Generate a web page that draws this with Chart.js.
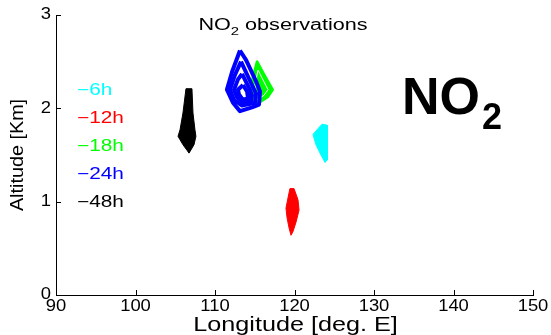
<!DOCTYPE html>
<html>
<head>
<meta charset="utf-8">
<script src="https://cdn.jsdelivr.net/npm/chart.js@4.4.1/dist/chart.umd.min.js"></script>
<style>
  body { margin: 0; background: #fff; }
  #wrap { width: 551px; height: 335px; }
</style>
</head>
<body>
<div id="wrap"><canvas id="myChart" width="551" height="335"></canvas></div>
<script>
// axis ticks
var xTicks = [90, 100, 110, 120, 130, 140, 150];
var yTicks = [0, 1, 2, 3];

// legend text
var legendLabels = ['\u22126h', '\u221212h', '\u221218h', '\u221224h', '\u221248h'];
var legendColors = ['#00ffff', '#ff0000', '#00ff00', '#0000ff', '#000000'];

// -6h (cyan)
var lon6 = [123.46, 124.09, 124.21, 124.09, 123.84, 123.33, 122.70, 122.33, 122.83, 123.46];
var alt6 = [1.83, 1.82, 1.66, 1.45, 1.42, 1.50, 1.61, 1.72, 1.77, 1.83];

// -12h (red)
var lon12 = [119.43, 119.94, 120.44, 120.57, 120.19, 119.81, 119.56, 119.31, 119.06, 118.93, 119.18, 119.43];
var alt12 = [1.14, 1.14, 1.02, 0.91, 0.78, 0.68, 0.64, 0.72, 0.83, 0.93, 1.04, 1.14];

// -18h (green), outer and inner contour
var lon18a = [115.28, 116.04, 117.30, 116.67, 115.41, 114.65, 114.65, 115.28];
var alt18a = [2.51, 2.39, 2.20, 2.12, 2.05, 2.09, 2.31, 2.51];
var lon18b = [115.41, 116.67, 116.16, 115.28, 115.03, 115.41];
var alt18b = [2.41, 2.20, 2.14, 2.09, 2.25, 2.41];

// -24h (blue), nested contours
var lon24a = [113.14, 113.90, 115.16, 115.66, 115.53, 114.65, 113.14, 112.26, 111.50, 112.14, 113.14];
var alt24a = [2.62, 2.52, 2.29, 2.18, 2.04, 2.01, 1.97, 2.06, 2.20, 2.39, 2.62];
var lon24b = [113.27, 114.65, 115.16, 115.03, 113.40, 112.39, 111.89, 112.52, 113.27];
var alt24b = [2.50, 2.25, 2.16, 2.06, 2.03, 2.09, 2.20, 2.36, 2.50];
var lon24c = [113.40, 114.28, 114.65, 114.53, 113.52, 112.77, 112.39, 112.89, 113.40];
var alt24c = [2.37, 2.22, 2.14, 2.08, 2.06, 2.12, 2.20, 2.31, 2.37];
var lon24d = [113.52, 114.03, 114.15, 113.52, 113.02, 112.89, 113.52];
var alt24d = [2.25, 2.18, 2.11, 2.09, 2.15, 2.20, 2.25];

// -48h (black)
var lon48 = [106.35, 107.10, 107.23, 107.48, 107.60, 107.36, 106.73, 106.48, 105.97, 105.35, 105.60, 105.97, 106.35];
var alt48 = [2.21, 2.21, 1.95, 1.77, 1.70, 1.61, 1.52, 1.55, 1.61, 1.70, 1.77, 1.95, 2.21];

function pts(xs, ys) {
    return xs.map(function (x, i) { return { x: x, y: ys[i] }; });
}

function shape(xs, ys, color, filled, width, order) {
    return {
        data: pts(xs, ys),
        showLine: true,
        fill: filled ? 'shape' : false,
        borderColor: color,
        backgroundColor: color,
        borderWidth: width,
        borderJoinStyle: 'round',
        pointRadius: 0,
        tension: 0,
        order: order
    };
}

var FONT = '"Liberation Sans", Arial, Helvetica, sans-serif';

function txt(ctx, s, x, y, size, color, align, bold, sx) {
    ctx.save();
    ctx.font = (bold ? 'bold ' : '') + size + 'px ' + FONT;
    ctx.fillStyle = color;
    ctx.textBaseline = 'middle';
    var w = ctx.measureText(s).width * sx;
    var left = align === 'center' ? x - w / 2 : (align === 'right' ? x - w : x);
    ctx.translate(left, y);
    ctx.scale(sx, 1);
    ctx.textAlign = 'left';
    ctx.fillText(s, 0, 0);
    ctx.restore();
    return w;
}

var matlabText = {
    id: 'matlabText',
    afterDraw: function (chart) {
        var ctx = chart.ctx;
        var xs = chart.scales.x, ys = chart.scales.y;
        var a = chart.chartArea;

        // inward tick marks
        ctx.save();
        ctx.strokeStyle = '#000';
        ctx.lineWidth = 1;
        ctx.beginPath();
        xTicks.forEach(function (t) {
            var px = Math.round(xs.getPixelForValue(t)) + 0.5;
            ctx.moveTo(px, a.bottom);
            ctx.lineTo(px, a.bottom - 5);
        });
        yTicks.forEach(function (t) {
            var py = Math.round(ys.getPixelForValue(t)) + 0.5;
            ctx.moveTo(a.left, py);
            ctx.lineTo(a.left + 5, py);
        });
        ctx.stroke();
        ctx.restore();

        // tick labels
        xTicks.forEach(function (t) {
            txt(ctx, String(t), xs.getPixelForValue(t), a.bottom + 12, 16, '#000', 'center', false, 1.15);
        });
        yTicks.forEach(function (t) {
            txt(ctx, String(t), a.left - 5, ys.getPixelForValue(t), 16, '#000', 'right', false, 1.15);
        });

        // axis titles
        txt(ctx, 'Longitude [deg. E]', (a.left + a.right) / 2 + 1, 325, 21, '#000', 'center', false, 1.2);
        ctx.save();
        ctx.translate(18, (a.top + a.bottom) / 2);
        ctx.rotate(-Math.PI / 2);
        txt(ctx, 'Altitude [Km]', 0, 0, 18, '#000', 'center', false, 1.1);
        ctx.restore();

        // plot title with subscript
        var tsx = 1.35;
        var t1 = 'NO', t2 = '2', t3 = ' observations';
        ctx.save();
        ctx.font = '16px ' + FONT;
        var w1 = ctx.measureText(t1).width * tsx, w3 = ctx.measureText(t3).width * tsx;
        ctx.font = '11px ' + FONT;
        var w2 = ctx.measureText(t2).width * tsx;
        ctx.restore();
        var tx = 283 - (w1 + w2 + w3) / 2;
        txt(ctx, t1, tx, 26, 16, '#000', 'left', false, tsx);
        txt(ctx, t2, tx + w1, 32, 11, '#000', 'left', false, tsx);
        txt(ctx, t3, tx + w1 + w2, 26, 16, '#000', 'left', false, tsx);

        // big label
        var wb = txt(ctx, 'NO', 402, 100, 52, '#000', 'left', true, 1);
        txt(ctx, '2', 402 + wb + 2, 119, 36, '#000', 'left', true, 1);

        // legend
        var legY = [91, 119, 147, 175, 203];
        legendLabels.forEach(function (s, i) {
            txt(ctx, s, 77, legY[i], 16, legendColors[i], 'left', false, 1.3);
        });
    }
};

var ctx = document.getElementById('myChart').getContext('2d');
var myChart = new Chart(ctx, {
    type: 'scatter',
    data: {
        datasets: [
            shape(lon24d, alt24d, '#0000ff', false, 4, 1),
            shape(lon24c, alt24c, '#0000ff', false, 4, 1),
            shape(lon24b, alt24b, '#0000ff', false, 4, 1),
            shape(lon24a, alt24a, '#0000ff', false, 4, 1),
            shape(lon18b, alt18b, '#ffffff', false, 1, 2),
            shape(lon18a, alt18a, '#00ff00', true, 2, 3),
            shape(lon12, alt12, '#ff0000', true, 1, 3),
            shape(lon6, alt6, '#00ffff', true, 1, 3),
            shape(lon48, alt48, '#000000', true, 1, 3)
        ]
    },
    options: {
        responsive: false,
        animation: false,
        layout: { padding: { left: 56, top: 15, right: 18, bottom: 40 } },
        plugins: {
            legend: { display: false },
            tooltip: { enabled: false }
        },
        scales: {
            x: {
                type: 'linear',
                min: 90,
                max: 150,
                ticks: { display: false },
                grid: { display: false },
                border: { display: true, color: '#000', width: 1 },
                afterFit: function (s) { s.height = 0; }
            },
            y: {
                type: 'linear',
                min: 0,
                max: 3,
                ticks: { display: false },
                grid: { display: false },
                border: { display: true, color: '#000', width: 1 },
                afterFit: function (s) { s.width = 0; }
            }
        }
    },
    plugins: [matlabText]
});
</script>
</body>
</html>
